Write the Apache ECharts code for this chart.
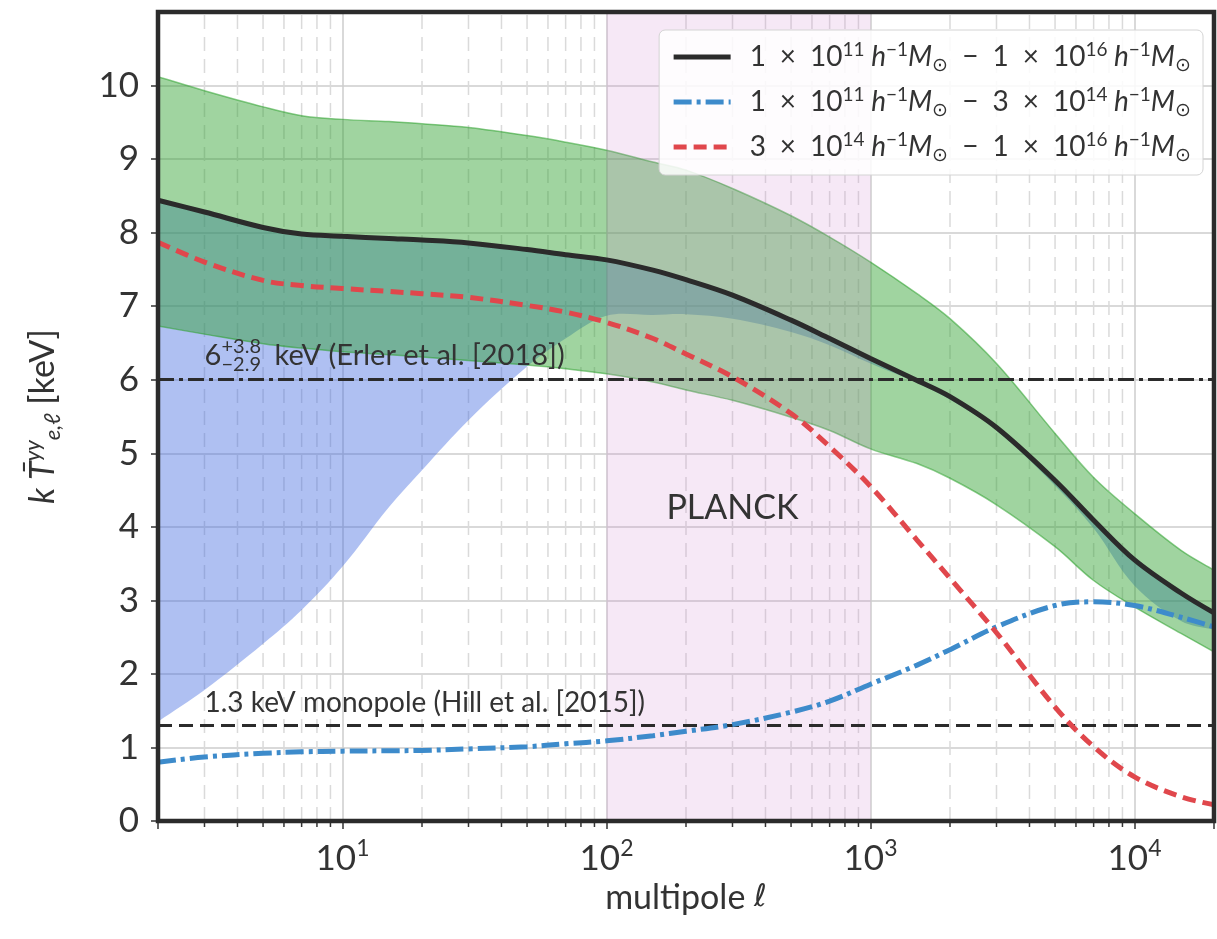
<!DOCTYPE html>
<html>
<head>
<meta charset="utf-8">
<script src="https://cdn.jsdelivr.net/npm/echarts@6/dist/echarts.min.js"></script>
<style>
  html, body { margin: 0; padding: 0; background: #fff; }
  #main { width: 1217px; height: 939px; }
</style>
</head>
<body>
<div id="main"></div>
<script>
var ells = [2, 3, 5, 7, 10, 15, 20, 30, 50, 70, 100, 150, 200, 300, 500, 700,
            1000, 1500, 2000, 3000, 5000, 7000, 10000, 15000, 20000];
// 1e11 - 1e16 (black)
var allMass = [8.44, 8.28, 8.07, 7.98, 7.95, 7.92, 7.90, 7.86, 7.77, 7.70, 7.63, 7.49, 7.36, 7.15, 6.81, 6.56,
               6.29, 5.99, 5.77, 5.35, 4.63, 4.09, 3.55, 3.10, 2.83];
// 1e11 - 3e14 (blue)
var lowMass = [0.80, 0.87, 0.92, 0.94, 0.95, 0.955, 0.96, 0.98, 1.01, 1.05, 1.09, 1.16, 1.22, 1.31, 1.48, 1.63,
               1.86, 2.12, 2.33, 2.64, 2.93, 2.98, 2.93, 2.77, 2.64];
// 3e14 - 1e16 (red)
var highMass = [7.87, 7.60, 7.35, 7.28, 7.24, 7.20, 7.17, 7.12, 7.01, 6.92, 6.78, 6.56, 6.35, 6.04, 5.54, 5.09,
                4.55, 3.82, 3.30, 2.56, 1.55, 1.01, 0.60, 0.33, 0.22];
// green band
var greenUpper = [10.12, 9.93, 9.71, 9.59, 9.54, 9.51, 9.48, 9.43, 9.32, 9.23, 9.12, 8.96, 8.85, 8.60, 8.23, 7.94,
                  7.60, 7.17, 6.83, 6.22, 5.27, 4.67, 4.18, 3.68, 3.41];
var greenLower = [6.73, 6.62, 6.49, 6.43, 6.38, 6.34, 6.31, 6.26, 6.20, 6.15, 6.08, 5.97, 5.86, 5.72, 5.49, 5.31,
                  5.06, 4.86, 4.66, 4.30, 3.73, 3.27, 2.91, 2.55, 2.30];
// blue band, from this lower edge up to the black curve
var blueLower = [1.35, 1.78, 2.41, 2.87, 3.46, 4.27, 4.77, 5.45, 6.18, 6.56, 6.87, 6.88, 6.89, 6.83, 6.65, 6.47,
                 6.22, 5.96, 5.73, 5.31, 4.56, 3.98, 3.20, 2.72, 2.60];

var planckRange = [100, 1000];
var erlerT = 6;
var hillT = 1.3;
var yTicks = [0, 1, 2, 3, 4, 5, 6, 7, 8, 9, 10];
var minorTicks = [3, 4, 5, 6, 7, 8, 9, 20, 30, 40, 50, 60, 70, 80, 90,
                  200, 300, 400, 500, 600, 700, 800, 900,
                  2000, 3000, 4000, 5000, 6000, 7000, 8000, 9000];

var SMOOTH = 0.35;

function pairs(ys) {
  return ells.map(function (x, i) { return [x, ys[i]]; });
}

// filled band between two curves, drawn through the axes with api.coord
function band(name, lower, upper, fill, edge) {
  return {
    type: 'custom', name: name, z: 2, silent: true, clip: true,
    data: [[ells[0], lower[0]]],
    encode: { x: 0, y: 1 },
    renderItem: function (params, api) {
      var top = ells.map(function (x, i) { return api.coord([x, upper[i]]); });
      var bot = ells.map(function (x, i) { return api.coord([x, lower[i]]); }).reverse();
      var n = top.length;
      // ends doubled so the corners stay sharp when smoothed
      var pts = [top[0]].concat(top, [top[n - 1]], [bot[0]], bot, [bot[n - 1]]);
      return {
        type: 'polygon',
        shape: { points: pts, smooth: SMOOTH },
        style: { fill: fill, stroke: edge || null, lineWidth: edge ? 1.5 : 0 }
      };
    }
  };
}

var FONT = 'Lato';
var TXT = '#333333';
var mathRich = {
  n: { fontFamily: FONT, fontSize: 28, color: TXT, lineHeight: 34 },
  i: { fontFamily: FONT, fontSize: 28, fontStyle: 'italic', color: TXT, lineHeight: 34 },
  s: { fontFamily: FONT, fontSize: 19, color: TXT, lineHeight: 18, verticalAlign: 'top' },
  o: { fontFamily: FONT, fontSize: 19, color: TXT, lineHeight: 18, verticalAlign: 'bottom' }
};
var SP = '\u2002';
function massLabel(a, ea, b, eb) {
  return '{n|' + a + SP + '×' + SP + '10}{s|' + ea + '}{i| h}{s|−1}{i|M}{o|⊙}' +
         '{n|' + SP + '−' + SP + b + SP + '×' + SP + '10}{s|' + eb + '}{i| h}{s|−1}{i|M}{o|⊙}';
}
var legendText = {
  'all': massLabel(1, 11, 1, 16),
  'low': massLabel(1, 11, 3, 14),
  'high': massLabel(3, 14, 1, 16)
};

var chart = echarts.init(document.getElementById('main'));

var option = {
  animation: false,
  backgroundColor: '#fff',
  grid: {
    left: 158, right: 3, top: 12, bottom: 118,
    show: true, borderColor: '#2b2b2b', borderWidth: 4.5,
    backgroundColor: 'transparent',
    outerBoundsMode: 'none',
    z: 8
  },
  legend: {
    data: ['all', 'low', 'high'],
    orient: 'vertical',
    right: 14, top: 30,
    itemWidth: 57, itemHeight: 12, itemGap: 11,
    padding: [10, 12, 11, 12],
    backgroundColor: 'rgba(255,255,255,0.85)',
    borderColor: '#d4d4d4', borderWidth: 1, borderRadius: 6,
    itemStyle: { opacity: 0 },
    lineStyle: { width: 5 },
    formatter: function (name) { return legendText[name]; },
    textStyle: { rich: mathRich, padding: [0, 0, 0, 14] },
    z: 10
  },
  xAxis: {
    type: 'log', logBase: 10, min: 2, max: 20000,
    name: '{n|multipole }{i|ℓ}',
    nameLocation: 'middle', nameGap: 56,
    nameTextStyle: {
      rich: {
        n: { fontFamily: FONT, fontSize: 34, color: TXT },
        i: { fontFamily: 'DejaVu Sans', fontSize: 31, color: TXT }
      }
    },
    axisLine: { show: false },
    axisTick: { length: 8, lineStyle: { color: '#333', width: 1.5 } },
    axisLabel: {
      margin: 16,
      formatter: function (v) {
        var e = Math.round(Math.log10(v));
        if (Math.abs(Math.log10(v) - e) > 1e-6 || e < 1) return '';
        return '{b|10}{s|' + e + '}';
      },
      rich: {
        b: { fontFamily: FONT, fontSize: 35, color: TXT, lineHeight: 44 },
        s: { fontFamily: FONT, fontSize: 23, color: TXT, lineHeight: 22, verticalAlign: 'top' }
      }
    },
    splitLine: { show: true, lineStyle: { color: '#cccccc', width: 1.5 } }
  },
  yAxis: {
    type: 'value', min: 0, max: 11, interval: 1,
    name: '{i|k }{i|T̄}{s|yy}{o|e,ℓ}{n| [keV]}',
    nameLocation: 'middle', nameGap: 94, nameRotate: 90,
    nameTextStyle: {
      rich: {
        n: { fontFamily: FONT, fontSize: 34, color: TXT, lineHeight: 42 },
        i: { fontFamily: FONT, fontSize: 34, fontStyle: 'italic', color: TXT, lineHeight: 42 },
        s: { fontFamily: FONT, fontSize: 22, fontStyle: 'italic', color: TXT, lineHeight: 20, verticalAlign: 'top' },
        o: { fontFamily: FONT, fontSize: 22, fontStyle: 'italic', color: TXT, lineHeight: 20, verticalAlign: 'bottom' }
      }
    },
    axisLine: { show: false },
    axisTick: { length: 7, customValues: yTicks, lineStyle: { color: '#333', width: 1.5 } },
    axisLabel: {
      customValues: yTicks,
      fontFamily: FONT, fontSize: 35, color: TXT, margin: 19
    },
    splitLine: { lineStyle: { color: '#cccccc', width: 1.5 } }
  },
  series: [
    {
      // minor gridlines and ticks of the log axis
      type: 'custom', name: 'minor', z: 1, silent: true, clip: false,
      data: minorTicks.map(function (v) { return [v, 0]; }),
      encode: { x: 0, y: 1 },
      renderItem: function (params, api) {
        var v = api.value(0);
        var b = api.coord([v, 0]);
        var t = api.coord([v, 11]);
        return {
          type: 'group',
          children: [
            { type: 'line', shape: { x1: b[0], y1: b[1], x2: t[0], y2: t[1] },
              style: { stroke: '#dadada', lineWidth: 1.5, lineDash: [14, 8] } },
            { type: 'line', shape: { x1: b[0], y1: b[1] + 2, x2: b[0], y2: b[1] + 6 },
              style: { stroke: '#333', lineWidth: 1.5 } }
          ]
        };
      }
    },
    band('blueBand', blueLower, allMass, 'rgba(65,105,225,0.42)', null),
    band('greenBand', greenLower, greenUpper, 'rgba(44,160,44,0.45)', 'rgba(44,160,44,0.55)'),
    {
      name: 'planck', type: 'line', data: [], silent: true,
      markArea: {
        z: 3, silent: true,
        itemStyle: { color: 'rgba(210,140,210,0.2)', borderWidth: 0 },
        data: [[{ xAxis: planckRange[0] }, { xAxis: planckRange[1] }]]
      },
      markLine: {
        z: 4, silent: true, symbol: 'none', label: { show: false },
        data: [
          { yAxis: erlerT, lineStyle: { color: '#2b2b2b', width: 3.2, type: [16, 5, 4, 5] } },
          { yAxis: hillT, lineStyle: { color: '#2b2b2b', width: 3.2, type: [14, 7] } }
        ]
      },
      markPoint: {
        z: 5, silent: true, symbol: 'circle', symbolSize: 0,
        data: [
          { coord: [300, 4.25], label: { show: true, position: [0, 0], align: 'center', verticalAlign: 'middle',
              formatter: 'PLANCK', fontFamily: FONT, fontSize: 34, color: TXT } },
          { coord: [3, 1.6], label: { show: true, position: [0, 0], align: 'left', verticalAlign: 'middle',
              formatter: '1.3 keV monopole (Hill et al. [2015])', fontFamily: FONT, fontSize: 28, color: TXT } },
          { coord: [3, 6.33], label: { show: true, position: [0, 0], align: 'left', verticalAlign: 'middle',
              formatter: '6', fontFamily: FONT, fontSize: 29, color: TXT } },
          { coord: [3, 6.33], label: { show: true, position: [17, 0], align: 'left', verticalAlign: 'middle',
              formatter: '+3.8\n−2.9', fontFamily: FONT, fontSize: 20, lineHeight: 18, color: TXT } },
          { coord: [3, 6.33], label: { show: true, position: [70, 0], align: 'left', verticalAlign: 'middle',
              formatter: 'keV (Erler et al. [2018])', fontFamily: FONT, fontSize: 29, color: TXT } }
        ]
      }
    },
    {
      name: 'all', type: 'line', z: 6, data: pairs(allMass), symbol: 'none',
      smooth: SMOOTH,
      itemStyle: { color: '#2b2b2b' },
      lineStyle: { color: '#2b2b2b', width: 5 }
    },
    {
      name: 'low', type: 'line', z: 6, data: pairs(lowMass), symbol: 'none',
      smooth: SMOOTH,
      itemStyle: { color: '#3d8bcb' },
      lineStyle: { color: '#3d8bcb', width: 5, type: [18, 5, 4, 5] }
    },
    {
      name: 'high', type: 'line', z: 6, data: pairs(highMass), symbol: 'none',
      smooth: SMOOTH,
      itemStyle: { color: '#e0474c' },
      lineStyle: { color: '#e0474c', width: 5, type: [13, 7] }
    }
  ]
};

chart.setOption(option);
</script>
</body>
</html>
